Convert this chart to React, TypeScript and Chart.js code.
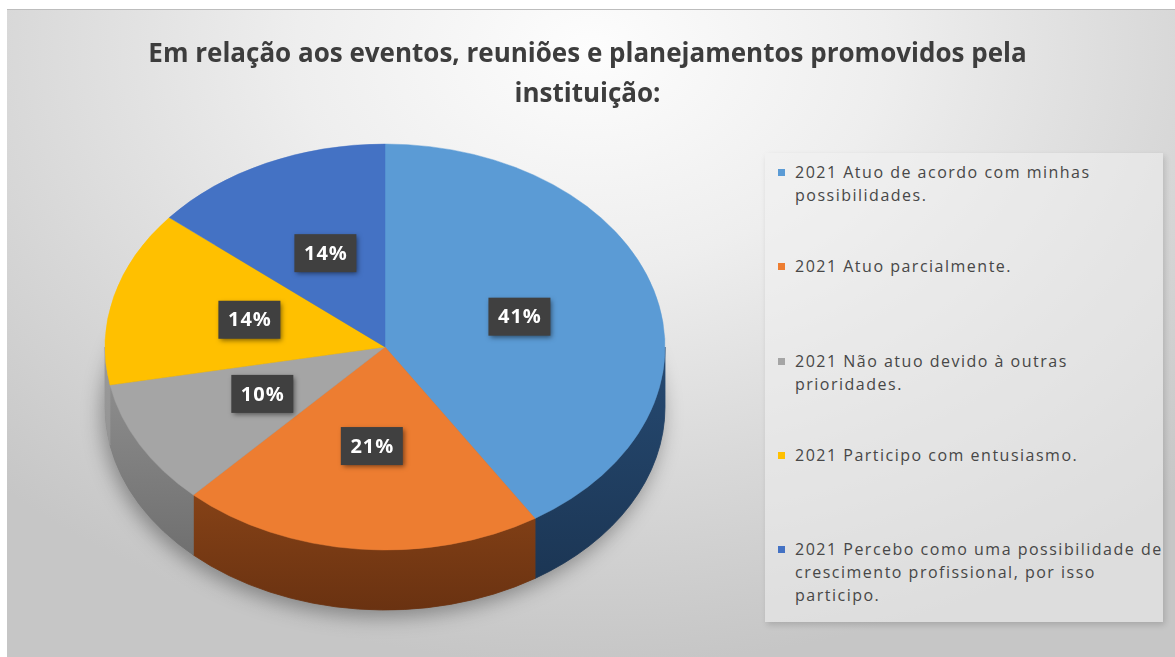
import React, { useEffect, useRef } from 'react';
import { Chart, registerables } from 'chart.js';
Chart.register(...registerables);

const titleLines = ['Em relação aos eventos, reuniões e planejamentos promovidos pela', 'instituição:'];
const categories = [
  '2021 Atuo de acordo com minhas possibilidades.',
  '2021 Atuo parcialmente.',
  '2021 Não atuo devido à outras prioridades.',
  '2021 Participo com entusiasmo.',
  '2021 Percebo como uma possibilidade de crescimento profissional, por isso participo.',
];
const values = [41, 21, 10, 14, 14];
const topColors = ['#5B9BD5', '#ED7D31', '#A5A5A5', '#FFC000', '#4472C4'];
const sideTop = ['#264a72', '#a8561e', '#939393', '#9a9a9a', '#2f5190'];
const sideBottom = ['#1a3350', '#6a3211', '#666666', '#8a8a8a', '#203a68'];

const PIE = { cx: 385, cy: 347, rx: 280, ry: 203, depth: 60 };
const FONT = "'Open Sans', sans-serif";

const pie3d = {
  id: 'pie3d',
  beforeDatasetsDraw(chart: any) {
    const ctx = chart.ctx;
    const arcs = chart.getDatasetMeta(0).data;
    if (!arcs.length) return;
    const { cx, cy, rx, ry, depth } = PIE;
    ctx.save();
    ctx.shadowColor = 'rgba(0,0,0,0.35)';
    ctx.shadowBlur = 20;
    ctx.shadowOffsetX = -3;
    ctx.shadowOffsetY = 7;
    ctx.fillStyle = '#777';
    ctx.beginPath();
    ctx.ellipse(cx, cy + depth, rx, ry, 0, 0, Math.PI * 2);
    ctx.fill();
    ctx.restore();
    arcs.forEach((arc: any, i: number) => {
      const { startAngle, endAngle } = arc.getProps(['startAngle', 'endAngle'], true);
      for (const base of [-2 * Math.PI, 0, 2 * Math.PI]) {
        const a = Math.max(startAngle, base);
        const b = Math.min(endAngle, base + Math.PI);
        if (b <= a) continue;
        ctx.save();
        const g = ctx.createLinearGradient(0, cy, 0, cy + ry + depth);
        g.addColorStop(0, sideTop[i]);
        g.addColorStop(1, sideBottom[i]);
        ctx.fillStyle = g;
        ctx.beginPath();
        ctx.ellipse(cx, cy, rx, ry, 0, a, b, false);
        ctx.lineTo(cx + rx * Math.cos(b), cy + ry * Math.sin(b) + depth);
        ctx.ellipse(cx, cy + depth, rx, ry, 0, b, a, true);
        ctx.closePath();
        ctx.fill();
        ctx.strokeStyle = g;
        ctx.lineWidth = 0.8;
        ctx.stroke();
        ctx.restore();
      }
    });
    const { x, y, outerRadius } = arcs[0].getProps(['x', 'y', 'outerRadius'], true);
    ctx.save();
    ctx.translate(cx, cy);
    ctx.scale(rx / outerRadius, ry / outerRadius);
    ctx.translate(-x, -y);
  },
  afterDatasetsDraw(chart: any) {
    const ctx = chart.ctx;
    const arcs = chart.getDatasetMeta(0).data;
    if (!arcs.length) return;
    ctx.restore();
    const { cx, cy, rx, ry } = PIE;
    const total = values.reduce((s, v) => s + v, 0);
    arcs.forEach((arc: any, i: number) => {
      const { startAngle, endAngle } = arc.getProps(['startAngle', 'endAngle'], true);
      const mid = (startAngle + endAngle) / 2;
      const lx = cx + 0.5 * rx * Math.cos(mid);
      const ly = cy + 0.5 * ry * Math.sin(mid) - 2;
      const w = 62, h = 38;
      ctx.save();
      ctx.shadowColor = 'rgba(0,0,0,0.5)';
      ctx.shadowBlur = 5;
      ctx.shadowOffsetX = 2;
      ctx.shadowOffsetY = 2;
      ctx.fillStyle = '#404040';
      ctx.fillRect(lx - w / 2, ly - h / 2, w, h);
      ctx.restore();
      ctx.save();
      ctx.fillStyle = '#ffffff';
      ctx.font = `bold 20px ${FONT}`;
      (ctx as any).letterSpacing = '1px';
      ctx.textAlign = 'center';
      ctx.textBaseline = 'middle';
      ctx.fillText(Math.round((values[i] / total) * 100) + '%', lx + 0.5, ly + 1);
      ctx.restore();
    });
  },
};

export default function App() {
  const ref = useRef<HTMLCanvasElement | null>(null);
  useEffect(() => {
    if (!ref.current) return;
    const chart = new Chart(ref.current, {
      type: 'pie',
      data: {
        labels: categories,
        datasets: [
          {
            data: values,
            backgroundColor: topColors,
            borderColor: topColors,
            borderWidth: 0.5,
            hoverOffset: 0,
            clip: false as any,
          },
        ],
      },
      options: {
        responsive: false,
        animation: false,
        events: [],
        layout: { padding: 0 },
        plugins: {
          legend: { display: false },
          tooltip: { enabled: false },
          title: {
            display: true,
            text: titleLines,
            color: '#3d3d3d',
            font: { family: FONT, size: 26, weight: 'bold', lineHeight: 1.55 },
            padding: { top: 34, bottom: 10 },
          },
        },
      },
      plugins: [pie3d],
    });
    return () => chart.destroy();
  }, []);

  const entryTop = (i: number) => 8 + i * 94.3;

  return (
    <div style={{ position: 'fixed', left: 0, top: 0, width: 1175, height: 657, background: '#ffffff', overflow: 'hidden' }}>
      <div
        style={{
          position: 'absolute',
          left: 7,
          top: 9,
          width: 1168,
          height: 648,
          borderTop: '1px solid #bdbdbd',
          background: 'radial-gradient(ellipse 72% 95% at 50% 6%, #fdfdfd 0%, #eeeeee 35%, #d8d8d8 70%, #c6c6c6 100%)',
        }}
      />
      <div
        style={{
          position: 'absolute',
          left: 765,
          top: 153,
          width: 398,
          height: 469,
          background: 'rgba(240,240,240,0.55)',
          boxShadow: '2px 3px 6px rgba(0,0,0,0.15)',
        }}
      >
        {categories.map((c, i) => (
          <div key={i} style={{ position: 'absolute', left: 13, top: entryTop(i), width: 385 }}>
            <div style={{ position: 'absolute', left: 0, top: 8, width: 7, height: 7, background: topColors[i] }} />
            <div
              style={{
                position: 'absolute',
                left: 17,
                top: 0,
                width: 368,
                fontFamily: FONT,
                fontSize: 16,
                lineHeight: '23px',
                letterSpacing: '1.5px',
                color: '#474747',
              }}
            >
              {c}
            </div>
          </div>
        ))}
      </div>
      <canvas ref={ref} width={1175} height={657} style={{ position: 'absolute', left: 0, top: 0 }} />
    </div>
  );
}
